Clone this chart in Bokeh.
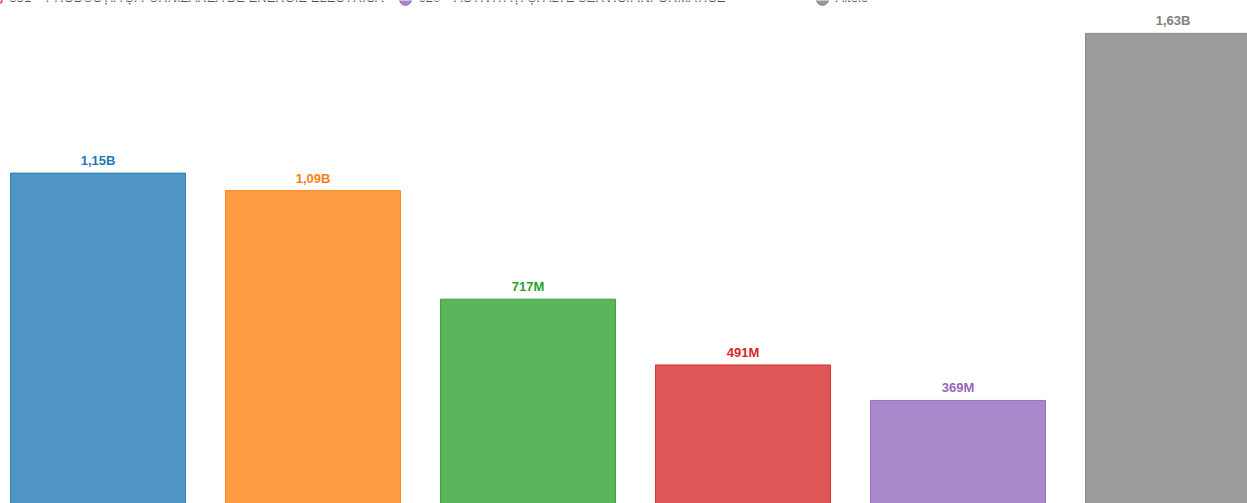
from bokeh.plotting import figure
from bokeh.models import ColumnDataSource, Range1d, Label
from bokeh.embed import file_html
from bokeh.resources import INLINE

categories = ["Cat1", "Cat2", "Cat3", "351", "620", "Altele"]
values = [1.15e9, 1.09e9, 717e6, 491e6, 369e6, 1.63e9]
value_labels = ["1,15B", "1,09B", "717M", "491M", "369M", "1,63B"]
colors = ["#1f77b4", "#ff7f0e", "#2ca02c", "#d62728", "#9467bd", "#7f7f7f"]
legend_items = [
    ("351 – PRODUCȚIA ȘI FURNIZAREA DE ENERGIE ELECTRICĂ", "#d62728"),
    ("620 – ACTIVITĂȚI ȘI ALTE SERVICII INFORMATICE", "#9467bd"),
    ("Altele", "#7f7f7f"),
]

W, H = 1247, 503
xs = list(range(len(categories)))
src = ColumnDataSource(dict(x=xs, top=values, color=colors, label=value_labels))

p = figure(width=W, height=H, output_backend="svg", toolbar_location=None,
           x_range=Range1d(-0.4535, 5.3465), y_range=Range1d(15e6, 1743e6),
           min_border=0, outline_line_color=None)
p.axis.visible = False
p.grid.visible = False
p.background_fill_color = "white"

p.vbar(x="x", top="top", bottom=0, width=0.814, source=src,
       fill_color="color", fill_alpha=0.78, line_color="color", line_alpha=0.9, line_width=1)
p.text(x="x", y="top", text="label", source=src, text_color="color",
       text_align="center", text_baseline="bottom", y_offset=-5,
       text_font_size="13px", text_font_style="bold")

# legend row (partly cropped at the top of the picture)
leg_x = [-4, 405, 822]
for (txt, col), lx in zip(legend_items, leg_x):
    p.add_layout(Label(x=lx + 13, y=H + 3, x_units="screen", y_units="screen",
                       text=txt, text_font_size="13px", text_color="#555555",
                       text_baseline="middle", text_align="left"))
    p.scatter(x=[lx / 215.0 - 0.4535], y=[1743e6 + 4e6], size=12,
              fill_color=col, line_color=col, fill_alpha=0.8)

open("out.html", "w").write(file_html(p, INLINE))
